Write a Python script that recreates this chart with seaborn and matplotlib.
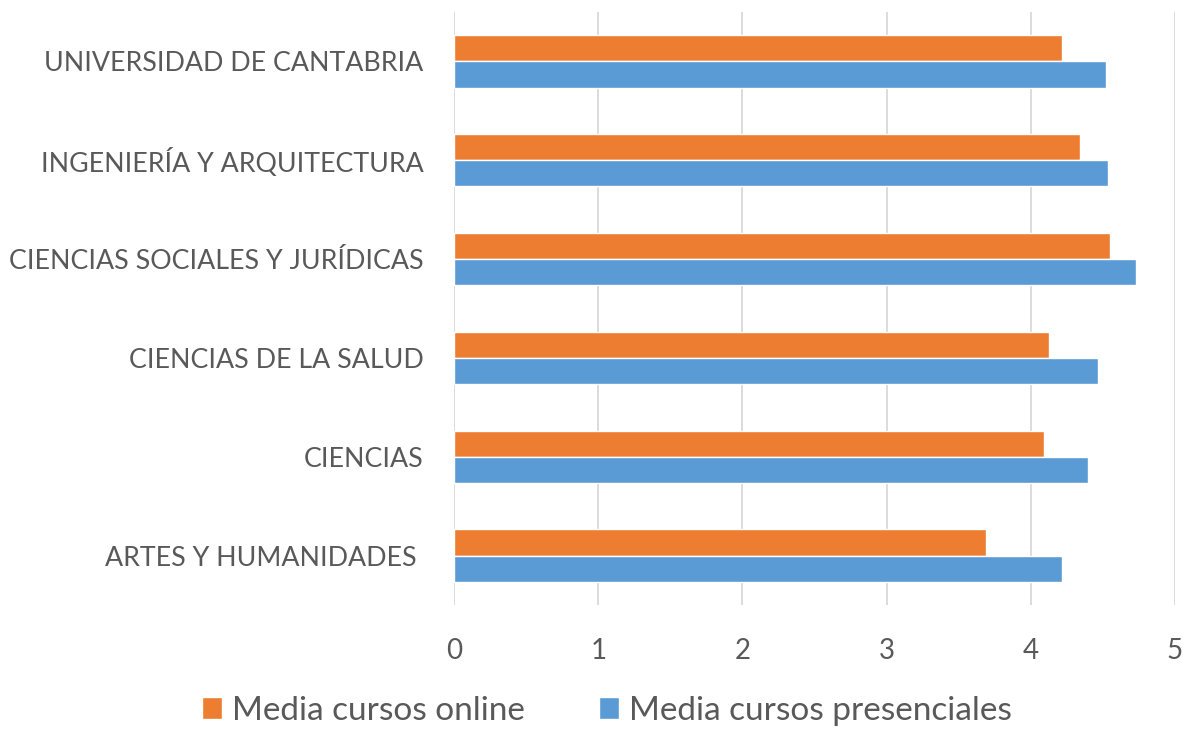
import seaborn as sns
import matplotlib.pyplot as plt
import pandas as pd

categorias = ['UNIVERSIDAD DE CANTABRIA', 'INGENIERÍA Y ARQUITECTURA',
              'CIENCIAS SOCIALES Y JURÍDICAS', 'CIENCIAS DE LA SALUD',
              'CIENCIAS', 'ARTES Y HUMANIDADES ']
online = [4.22, 4.34, 4.55, 4.13, 4.09, 3.69]
presencial = [4.52, 4.54, 4.73, 4.47, 4.40, 4.22]
series = ['Media cursos online', 'Media cursos presenciales']
colores = ['#ED7D31', '#5B9BD5']

df = pd.DataFrame({'cat': categorias * 2,
                   'valor': online + presencial,
                   'serie': [series[0]] * 6 + [series[1]] * 6})

sns.set_style('white')
plt.rcParams['font.family'] = ['Lato', 'DejaVu Sans']
gris = '#595959'

fig = plt.figure(figsize=(11.83, 7.29), dpi=100)
ax = fig.add_axes([0.384, 0.17, 0.609, 0.8135])
sns.barplot(data=df, x='valor', y='cat', hue='serie', order=categorias,
            hue_order=series, palette=colores, orient='h', width=0.53,
            saturation=1, ax=ax)

ax.set_xlim(0, 5)
ax.set_xticks(range(6))
ax.grid(axis='x', color='#D9D9D9', linewidth=1.3)
ax.set_axisbelow(True)
for s in ax.spines.values():
    s.set_visible(False)
ax.set_xlabel('')
ax.set_ylabel('')
ax.tick_params(axis='x', length=0, pad=24, labelsize=20, labelcolor=gris)
ax.tick_params(axis='y', length=0, pad=22, labelsize=19.3, labelcolor=gris)

ax.legend_.remove()
h, l = ax.get_legend_handles_labels()
fig.legend(h, l, loc='center', bbox_to_anchor=(0.513, 0.025), ncol=2,
           frameon=False, fontsize=24, labelcolor=gris, handlelength=0.62,
           handleheight=0.62, handletextpad=0.3, columnspacing=2.2)

plt.savefig('out.png', dpi=100)
